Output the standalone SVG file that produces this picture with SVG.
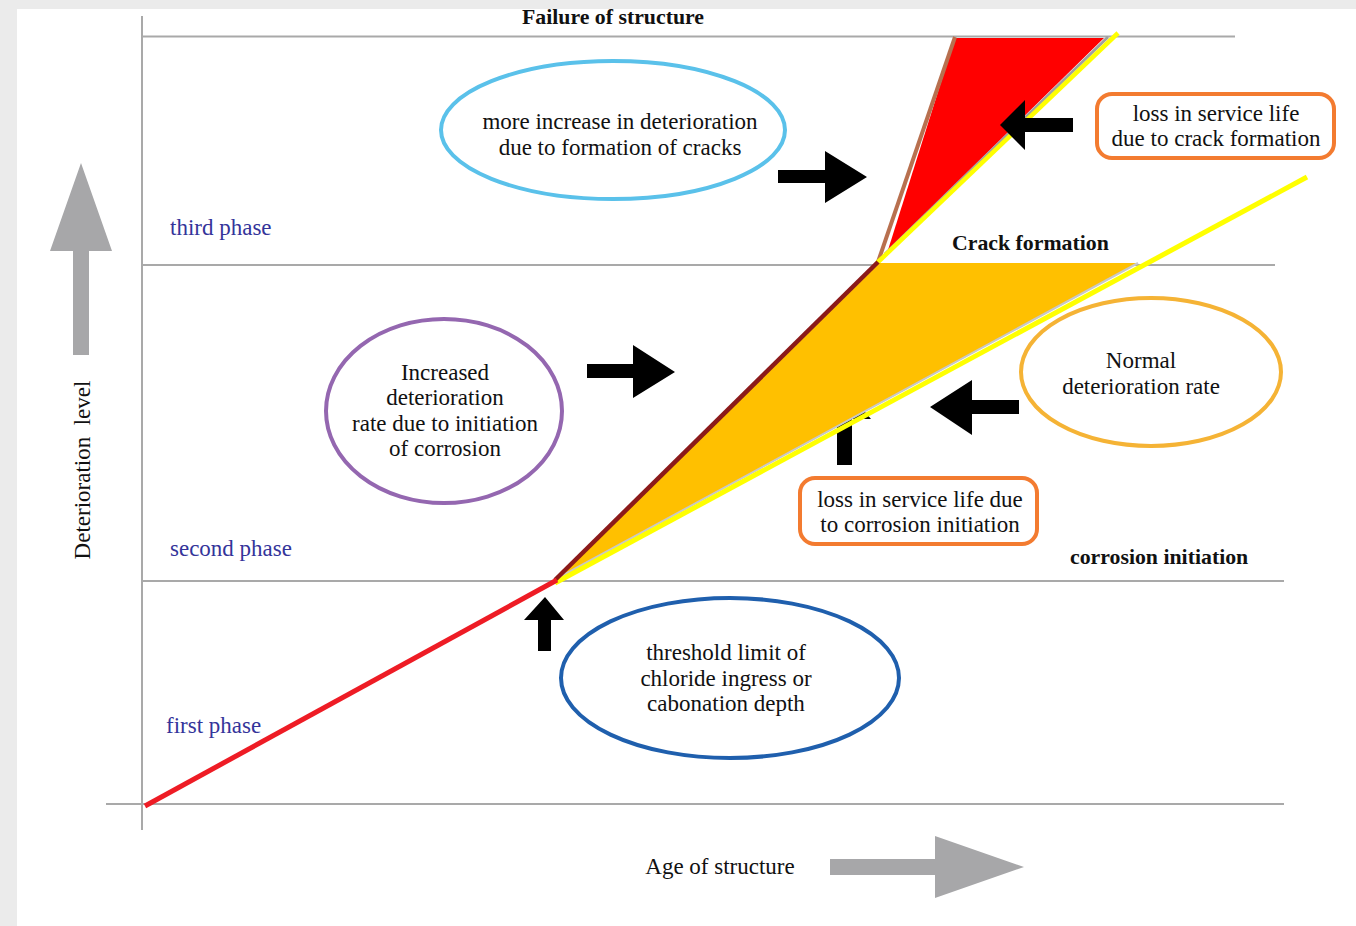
<svg xmlns="http://www.w3.org/2000/svg" width="1356" height="926" viewBox="0 0 1356 926">
<style>
.grid{stroke:#a9a9a9;stroke-width:2;fill:none}
.t{font-family:"Liberation Serif","Times New Roman",serif;font-size:23px;fill:#111;text-anchor:middle}
.b{font-family:"Liberation Serif","Times New Roman",serif;font-size:21.8px;font-weight:bold;fill:#111}
.ph{font-family:"Liberation Serif","Times New Roman",serif;font-size:23px;fill:#34349a}
.ell{fill:none;stroke-width:4}
.box{fill:#fff;stroke:#f37b30;stroke-width:4}
.blk{fill:#000}
.gry{fill:#a7a7a9}
</style>
<rect x="0" y="0" width="1356" height="926" fill="#ebebeb"/>
<rect x="17" y="9" width="1339" height="917" fill="#fff"/>
<g id="grid">
<line class="grid" x1="142" y1="16" x2="142" y2="830"/>
<line class="grid" x1="142" y1="36.5" x2="1235" y2="36.5"/>
<line class="grid" x1="142" y1="265" x2="1275" y2="265"/>
<line class="grid" x1="142" y1="581" x2="1284" y2="581"/>
<line class="grid" x1="106" y1="804" x2="1284" y2="804"/>
</g>
<g id="axis-arrows">
<polygon class="gry" points="81,163 112,251 89,251 89,355 73,355 73,251 50,251"/>
<polygon class="gry" points="830,859 935,859 935,836 1024,867 935,898 935,875 830,875"/>
</g>
<g id="connectors">
<polygon class="blk" points="778,170 825,170 825,151 867,177 825,203 825,183 778,183"/>
<polygon class="blk" points="587,364 633,364 633,345 675,372 633,398 633,378 587,378"/>
<polygon class="blk" points="1019,400 972,400 972,380 930,407 972,435 972,414 1019,414"/>
<polygon class="blk" points="837,465 837,419 823,419 847,391 871,419 852,419 852,465"/>
<polygon class="blk" points="538,651 538,620 524,620 545,597 564,620 551,620 551,651"/>
</g>
<g id="curve">
<polygon points="955,38 1104,38 888,250" fill="#ff0000"/>
<line x1="1108" y1="37" x2="885" y2="254" stroke="#a0a0a0" stroke-width="3"/>
<line x1="878" y1="262" x2="955" y2="37" stroke="#b8704f" stroke-width="4"/>
<line x1="877" y1="263" x2="1118" y2="33" stroke="#ffff00" stroke-width="4.5"/>
<polygon points="556,580 877,263 1138,263" fill="#ffc000"/>
<line x1="556" y1="579" x2="1138" y2="263" stroke="#c8c8c8" stroke-width="2"/>
<line x1="555" y1="583" x2="1307" y2="177" stroke="#ffff00" stroke-width="5"/>
<line x1="555" y1="580" x2="878" y2="262" stroke="#8b1a1a" stroke-width="4.5"/>
<line x1="145" y1="806" x2="557" y2="580" stroke="#ee1c25" stroke-width="5"/>
</g>
<g id="connector-crack">
<polygon class="blk" points="1073,118 1025,118 1025,100 1000,125 1025,150 1025,132 1073,132"/>
</g>
<g id="n-cracks">
<ellipse class="ell" cx="613" cy="130" rx="172" ry="69" stroke="#5ac1ea"/>
<text class="t" x="620" y="129">more increase in deterioration</text>
<text class="t" x="620" y="155">due to formation of cracks</text>
</g>
<g id="n-increased">
<ellipse class="ell" cx="444" cy="411" rx="118" ry="92" stroke="#9467b0"/>
<text class="t" x="445" y="380">Increased</text>
<text class="t" x="445" y="405">deterioration</text>
<text class="t" x="445" y="431">rate due to initiation</text>
<text class="t" x="445" y="456">of corrosion</text>
</g>
<g id="n-normal">
<ellipse class="ell" cx="1151" cy="372" rx="130" ry="74" stroke="#f5b335"/>
<text class="t" x="1141" y="368">Normal</text>
<text class="t" x="1141" y="394">deterioration rate</text>
</g>
<g id="n-threshold">
<ellipse class="ell" cx="730" cy="678" rx="169" ry="80" stroke="#1f5fad"/>
<text class="t" x="726" y="660">threshold limit of</text>
<text class="t" x="726" y="686">chloride ingress or</text>
<text class="t" x="726" y="711">cabonation depth</text>
</g>
<g id="n-loss-crack">
<rect class="box" x="1097" y="94" width="237" height="64" rx="15"/>
<text class="t" x="1216" y="121">loss in service life</text>
<text class="t" x="1216" y="146">due to crack formation</text>
</g>
<g id="n-loss-corrosion">
<rect class="box" x="800" y="478" width="237" height="66" rx="15"/>
<text class="t" x="920" y="507">loss in service life due</text>
<text class="t" x="920" y="532">to corrosion initiation</text>
</g>
<g id="labels">
<text class="b" x="613" y="24" text-anchor="middle">Failure of structure</text>
<text class="b" x="952" y="250">Crack formation</text>
<text class="b" x="1070" y="564">corrosion initiation</text>
<text class="ph" x="170" y="235">third phase</text>
<text class="ph" x="170" y="556">second phase</text>
<text class="ph" x="166" y="733">first phase</text>
<text class="t" x="720" y="874">Age of structure</text>
<text class="t" transform="translate(90,470) rotate(-90)" style="white-space:pre">Deterioration  level</text>
</g>
</svg>
